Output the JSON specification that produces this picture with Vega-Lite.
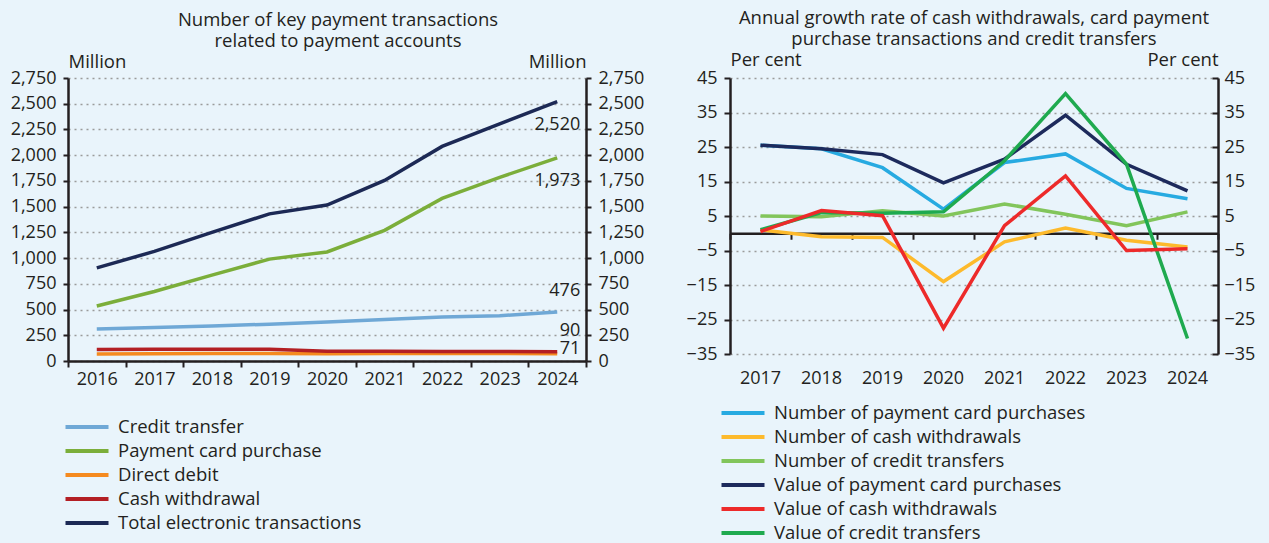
{
  "$schema": "https://vega.github.io/schema/vega-lite/v6.json",
  "background": "#E9F4FB",
  "padding": {"left": 10, "right": 14, "top": 8, "bottom": 0},
  "config": {
    "font": "Open Sans",
    "view": {"stroke": null},
    "concat": {"spacing": 42},
    "title": {"fontSize": 18.5, "fontWeight": "normal", "color": "#231F20", "lineHeight": 21, "anchor": "middle", "frame": "group"},
    "axis": {"labelFontSize": 18, "labelColor": "#231F20", "titleFontSize": 18.5, "titleFontWeight": "normal", "titleColor": "#231F20", "domainColor": "#231F20", "domainWidth": 2.5, "tickColor": "#231F20", "tickWidth": 2, "tickSize": 5, "labelPadding": 7, "gridColor": "#9B9B9B", "gridDash": [2, 4], "gridWidth": 1.3},
    "legend": {"orient": "none", "labelFontSize": 18.5, "labelColor": "#231F20", "symbolType": "M-2.15,0H2.15", "symbolSize": 400, "symbolStrokeWidth": 4, "rowPadding": 2, "labelOffset": 19, "labelLimit": 500, "title": null}
  },
  "resolve": {"scale": {"color": "independent"}, "legend": {"color": "independent"}},
  "hconcat": [
    {
      "width": 518,
      "height": 283,
      "title": {"text": ["Number of key payment transactions", "related to payment accounts"], "offset": 2, "dx": 11},
      "data": {"values": [
        {"year": "2016", "series": "Credit transfer", "value": 310},
        {"year": "2017", "series": "Credit transfer", "value": 325},
        {"year": "2018", "series": "Credit transfer", "value": 340},
        {"year": "2019", "series": "Credit transfer", "value": 358},
        {"year": "2020", "series": "Credit transfer", "value": 378},
        {"year": "2021", "series": "Credit transfer", "value": 403},
        {"year": "2022", "series": "Credit transfer", "value": 428},
        {"year": "2023", "series": "Credit transfer", "value": 440},
        {"year": "2024", "series": "Credit transfer", "value": 476},
        {"year": "2016", "series": "Payment card purchase", "value": 535},
        {"year": "2017", "series": "Payment card purchase", "value": 675},
        {"year": "2018", "series": "Payment card purchase", "value": 835},
        {"year": "2019", "series": "Payment card purchase", "value": 990},
        {"year": "2020", "series": "Payment card purchase", "value": 1060},
        {"year": "2021", "series": "Payment card purchase", "value": 1270},
        {"year": "2022", "series": "Payment card purchase", "value": 1580},
        {"year": "2023", "series": "Payment card purchase", "value": 1785},
        {"year": "2024", "series": "Payment card purchase", "value": 1973},
        {"year": "2016", "series": "Direct debit", "value": 68},
        {"year": "2017", "series": "Direct debit", "value": 70},
        {"year": "2018", "series": "Direct debit", "value": 72},
        {"year": "2019", "series": "Direct debit", "value": 72},
        {"year": "2020", "series": "Direct debit", "value": 70},
        {"year": "2021", "series": "Direct debit", "value": 72},
        {"year": "2022", "series": "Direct debit", "value": 73},
        {"year": "2023", "series": "Direct debit", "value": 72},
        {"year": "2024", "series": "Direct debit", "value": 71},
        {"year": "2016", "series": "Cash withdrawal", "value": 112},
        {"year": "2017", "series": "Cash withdrawal", "value": 113},
        {"year": "2018", "series": "Cash withdrawal", "value": 113},
        {"year": "2019", "series": "Cash withdrawal", "value": 113},
        {"year": "2020", "series": "Cash withdrawal", "value": 95},
        {"year": "2021", "series": "Cash withdrawal", "value": 95},
        {"year": "2022", "series": "Cash withdrawal", "value": 93},
        {"year": "2023", "series": "Cash withdrawal", "value": 92},
        {"year": "2024", "series": "Cash withdrawal", "value": 90},
        {"year": "2016", "series": "Total electronic transactions", "value": 905},
        {"year": "2017", "series": "Total electronic transactions", "value": 1065},
        {"year": "2018", "series": "Total electronic transactions", "value": 1250},
        {"year": "2019", "series": "Total electronic transactions", "value": 1430},
        {"year": "2020", "series": "Total electronic transactions", "value": 1515},
        {"year": "2021", "series": "Total electronic transactions", "value": 1755},
        {"year": "2022", "series": "Total electronic transactions", "value": 2085},
        {"year": "2023", "series": "Total electronic transactions", "value": 2305},
        {"year": "2024", "series": "Total electronic transactions", "value": 2520}
      ]},
      "layer": [
        {
          "mark": {"type": "line", "strokeWidth": 3.5},
          "encoding": {
            "x": {"field": "year", "type": "ordinal", "bandPosition": 0.5, "scale": {"type": "band", "paddingInner": 0, "paddingOuter": 0},
                  "axis": {"title": null, "labelAngle": 0, "tickBand": "extent", "grid": false, "domain": true, "ticks": true, "tickSize": 6, "labelPadding": 3}},
            "y": {"field": "value", "type": "quantitative", "scale": {"domain": [0, 2750], "nice": false},
                  "axis": {"values": [0, 250, 500, 750, 1000, 1250, 1500, 1750, 2000, 2250, 2500, 2750], "format": ",.0f", "grid": true,
                           "title": "Million", "titleAngle": 0, "titleAlign": "left", "titleBaseline": "middle", "titleX": 0, "titleY": -17}},
            "color": {"field": "series", "type": "nominal",
                      "scale": {"domain": ["Credit transfer", "Payment card purchase", "Direct debit", "Cash withdrawal", "Total electronic transactions"],
                                "range": ["#6FA8D6", "#7BAE3A", "#F58A1F", "#B31F24", "#1C2955"]},
                      "legend": {"legendX": 7, "legendY": 337}}
          }
        },
        {
          "mark": {"type": "line", "strokeOpacity": 0},
          "encoding": {
            "x": {"field": "year", "type": "ordinal", "bandPosition": 0.5},
            "y": {"field": "value", "type": "quantitative",
                  "axis": {"orient": "right", "values": [0, 250, 500, 750, 1000, 1250, 1500, 1750, 2000, 2250, 2500, 2750], "format": ",.0f", "grid": false,
                           "title": "Million", "titleAngle": 0, "titleAlign": "right", "titleBaseline": "middle", "titleX": 0, "titleY": -17}}
          }
        },
        {
          "transform": [{"filter": "datum.year == '2024' && (datum.series == 'Total electronic transactions' || datum.series == 'Payment card purchase')"}],
          "mark": {"type": "text", "align": "right", "baseline": "middle", "dx": 23, "dy": 23, "fontSize": 18, "color": "#231F20"},
          "encoding": {
            "x": {"field": "year", "type": "ordinal", "bandPosition": 0.5},
            "y": {"field": "value", "type": "quantitative", "axis": null},
            "text": {"field": "value", "type": "quantitative", "format": ","}
          }
        },
        {
          "transform": [{"filter": "datum.year == '2024' && (datum.series == 'Credit transfer' || datum.series == 'Cash withdrawal')"}],
          "mark": {"type": "text", "align": "right", "baseline": "middle", "dx": 23, "dy": -21, "fontSize": 18, "color": "#231F20"},
          "encoding": {
            "x": {"field": "year", "type": "ordinal", "bandPosition": 0.5},
            "y": {"field": "value", "type": "quantitative", "axis": null},
            "text": {"field": "value", "type": "quantitative", "format": ","}
          }
        },
        {
          "transform": [{"filter": "datum.year == '2024' && datum.series == 'Direct debit'"}],
          "mark": {"type": "text", "align": "right", "baseline": "middle", "dx": 23, "dy": -5, "fontSize": 18, "color": "#231F20"},
          "encoding": {
            "x": {"field": "year", "type": "ordinal", "bandPosition": 0.5},
            "y": {"field": "value", "type": "quantitative", "axis": null},
            "text": {"field": "value", "type": "quantitative", "format": ","}
          }
        }
      ],
      "resolve": {"axis": {"y": "independent"}}
    },
    {
      "width": 488,
      "height": 276,
      "title": {"text": ["Annual growth rate of cash withdrawals, card payment", "purchase transactions and credit transfers"], "offset": 2},
      "data": {"values": [
        {"year": "2017", "series": "Number of credit transfers", "value": 5},
        {"year": "2018", "series": "Number of credit transfers", "value": 4.8},
        {"year": "2019", "series": "Number of credit transfers", "value": 6.5},
        {"year": "2020", "series": "Number of credit transfers", "value": 5},
        {"year": "2021", "series": "Number of credit transfers", "value": 8.5},
        {"year": "2022", "series": "Number of credit transfers", "value": 5.5},
        {"year": "2023", "series": "Number of credit transfers", "value": 2.2},
        {"year": "2024", "series": "Number of credit transfers", "value": 6.2},
        {"year": "2017", "series": "Number of cash withdrawals", "value": 1},
        {"year": "2018", "series": "Number of cash withdrawals", "value": -1},
        {"year": "2019", "series": "Number of cash withdrawals", "value": -1.2},
        {"year": "2020", "series": "Number of cash withdrawals", "value": -14},
        {"year": "2021", "series": "Number of cash withdrawals", "value": -2.5},
        {"year": "2022", "series": "Number of cash withdrawals", "value": 1.5},
        {"year": "2023", "series": "Number of cash withdrawals", "value": -2},
        {"year": "2024", "series": "Number of cash withdrawals", "value": -4},
        {"year": "2017", "series": "Number of payment card purchases", "value": 25.5},
        {"year": "2018", "series": "Number of payment card purchases", "value": 24.5},
        {"year": "2019", "series": "Number of payment card purchases", "value": 19},
        {"year": "2020", "series": "Number of payment card purchases", "value": 7},
        {"year": "2021", "series": "Number of payment card purchases", "value": 20.5},
        {"year": "2022", "series": "Number of payment card purchases", "value": 23},
        {"year": "2023", "series": "Number of payment card purchases", "value": 13},
        {"year": "2024", "series": "Number of payment card purchases", "value": 10},
        {"year": "2017", "series": "Value of payment card purchases", "value": 25.5},
        {"year": "2018", "series": "Value of payment card purchases", "value": 24.5},
        {"year": "2019", "series": "Value of payment card purchases", "value": 22.8},
        {"year": "2020", "series": "Value of payment card purchases", "value": 14.6},
        {"year": "2021", "series": "Value of payment card purchases", "value": 21.5},
        {"year": "2022", "series": "Value of payment card purchases", "value": 34.2},
        {"year": "2023", "series": "Value of payment card purchases", "value": 20},
        {"year": "2024", "series": "Value of payment card purchases", "value": 12.3},
        {"year": "2017", "series": "Value of credit transfers", "value": 1},
        {"year": "2018", "series": "Value of credit transfers", "value": 6},
        {"year": "2019", "series": "Value of credit transfers", "value": 5.8},
        {"year": "2020", "series": "Value of credit transfers", "value": 6.2},
        {"year": "2021", "series": "Value of credit transfers", "value": 21},
        {"year": "2022", "series": "Value of credit transfers", "value": 40.5},
        {"year": "2023", "series": "Value of credit transfers", "value": 20},
        {"year": "2024", "series": "Value of credit transfers", "value": -30.5},
        {"year": "2017", "series": "Value of cash withdrawals", "value": 0.5},
        {"year": "2018", "series": "Value of cash withdrawals", "value": 6.6},
        {"year": "2019", "series": "Value of cash withdrawals", "value": 5.1},
        {"year": "2020", "series": "Value of cash withdrawals", "value": -27.5},
        {"year": "2021", "series": "Value of cash withdrawals", "value": 2.2},
        {"year": "2022", "series": "Value of cash withdrawals", "value": 16.6},
        {"year": "2023", "series": "Value of cash withdrawals", "value": -5},
        {"year": "2024", "series": "Value of cash withdrawals", "value": -4.5}
      ]},
      "layer": [
        {
          "mark": {"type": "line", "strokeWidth": 3.5},
          "encoding": {
            "x": {"field": "year", "type": "ordinal", "bandPosition": 0.5, "scale": {"type": "band", "paddingInner": 0, "paddingOuter": 0},
                  "axis": {"title": null, "labelAngle": 0, "grid": false, "domain": false, "ticks": false, "labelPadding": 15}},
            "y": {"field": "value", "type": "quantitative", "scale": {"domain": [-35, 45], "nice": false},
                  "axis": {"values": [-35, -25, -15, -5, 5, 15, 25, 35, 45], "format": ".0f", "grid": true, "tickSize": 6,
                           "title": "Per cent", "titleAngle": 0, "titleAlign": "left", "titleBaseline": "middle", "titleX": 0, "titleY": -19}},
            "color": {"field": "series", "type": "nominal",
                      "scale": {"domain": ["Number of payment card purchases", "Number of cash withdrawals", "Number of credit transfers", "Value of payment card purchases", "Value of cash withdrawals", "Value of credit transfers"],
                                "range": ["#27AAE1", "#FDBA2C", "#82C55B", "#1D2A5C", "#ED2A2A", "#1FAA4F"]},
                      "legend": {"legendX": 1, "legendY": 323}}
          }
        },
        {
          "mark": {"type": "line", "strokeOpacity": 0},
          "encoding": {
            "x": {"field": "year", "type": "ordinal", "bandPosition": 0.5,
                  "axis": {"orient": "bottom", "offset": -120.75, "labels": false, "title": null, "tickBand": "extent", "grid": false, "domain": true, "ticks": true, "tickSize": 6}},
            "y": {"field": "value", "type": "quantitative",
                  "axis": {"orient": "right", "values": [-35, -25, -15, -5, 5, 15, 25, 35, 45], "format": ".0f", "grid": false, "tickSize": -6, "labelPadding": 12,
                           "title": "Per cent", "titleAngle": 0, "titleAlign": "right", "titleBaseline": "middle", "titleX": 0, "titleY": -19}}
          }
        }
      ],
      "resolve": {"axis": {"x": "independent", "y": "independent"}}
    }
  ]
}
